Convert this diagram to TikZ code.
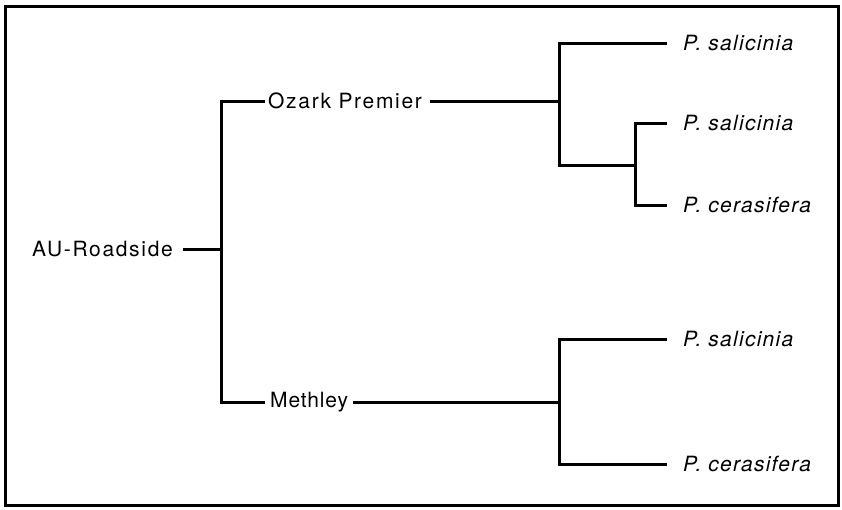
\documentclass[tikz,border=0pt]{standalone}
\usepackage{fontspec}
\newfontfamily\labfont[LetterSpace=8]{TeX Gyre Heros}
\newfontfamily\methfont[LetterSpace=4]{TeX Gyre Heros}
\newfontfamily\leaffont[LetterSpace=6]{TeX Gyre Heros Italic}
\begin{document}
\begin{tikzpicture}[x=1pt,y=-1pt,
  br/.style={line width=3pt, line cap=butt},
  frame/.style={line width=3pt},
  lab/.style={font=\fontsize{21}{24}\labfont, inner ysep=0pt},
  leaf/.style={font=\fontsize{21}{24}\leaffont, inner ysep=0pt, inner xsep=16pt, anchor=west}]
\useasboundingbox (0,0) rectangle (842,509);
\draw[frame] (5,6) rectangle (838,505);

% nodes
\node[lab, anchor=east, inner xsep=10pt] (au) at (183,249) {AU-Roadside};
\node[lab, anchor=west, inner xsep=3pt] (oz) at (265,101) {Ozark Premier};
\node[lab, font=\fontsize{21}{24}\methfont, anchor=west, inner xsep=5pt] (me) at (265,402) {Methley};
\node[leaf] (l1) at (667,43) {P. salicinia};
\node[leaf] (l2) at (667,123) {P. salicinia};
\node[leaf] (l3) at (667,205) {P. cerasifera};
\node[leaf] (l4) at (667,339) {P. salicinia};
\node[leaf] (l5) at (667,464) {P. cerasifera};

% junctions
\coordinate (j1) at (221,249);
\coordinate (j2) at (559,101);
\coordinate (k3) at (635,165);
\coordinate (j4) at (559,402);

% connectors
\draw[br] (au.east) -- (j1);
\draw[br] (oz.west) -| (j1) |- (me.west);
\draw[br] ([xshift=5pt]oz.east) -- (j2);
\draw[br] (l1.west) -| (j2) |- (k3);
\draw[br] (l2.west) -| (k3) |- (l3.west);
\draw[br] (me.east) -- (j4);
\draw[br] (l4.west) -| (j4) |- (l5.west);
\end{tikzpicture}
\end{document}
